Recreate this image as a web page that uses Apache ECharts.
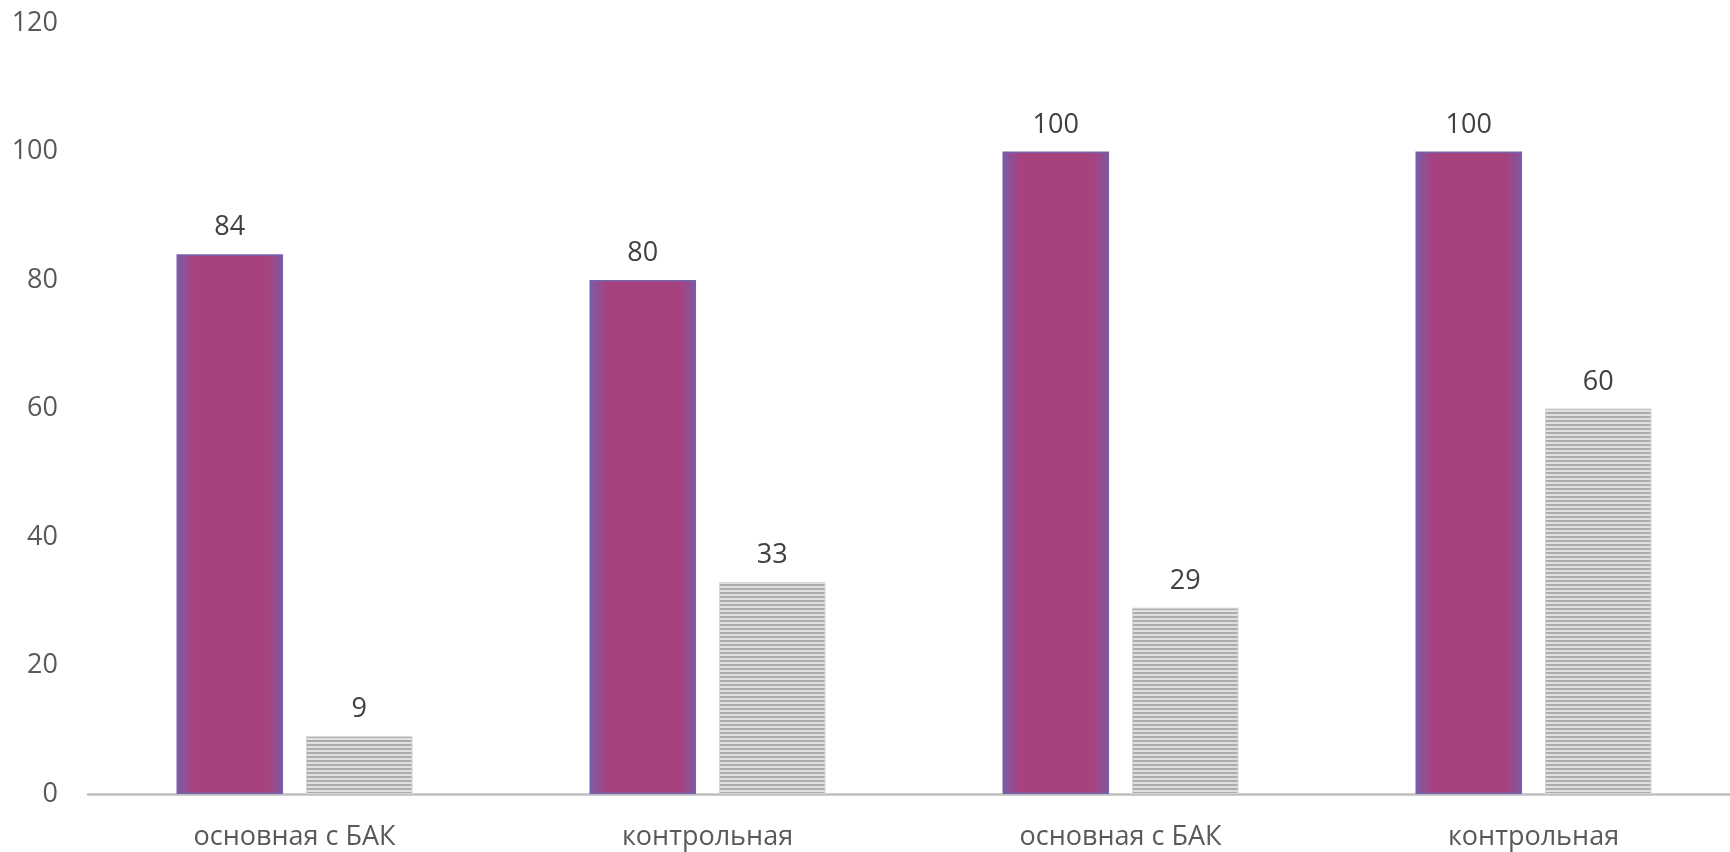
<!DOCTYPE html>
<html>
<head>
<meta charset="utf-8">
<script src="https://cdn.jsdelivr.net/npm/echarts@6/dist/echarts.min.js"></script>
<style>
html,body{margin:0;padding:0;background:#fff;}
#chart{width:1730px;height:852px;}
</style>
</head>
<body>
<div id="chart"></div>
<script>
const categories = ['основная с БАК', 'контрольная', 'основная с БАК', 'контрольная'];
const seriesA = [84, 80, 100, 100];
const seriesB = [9, 33, 29, 60];
const yTicks = { min: 0, max: 120, interval: 20 };

function stripePattern() {
  const c = document.createElement('canvas');
  c.width = 8; c.height = 4;
  const ctx = c.getContext('2d');
  ctx.fillStyle = '#E0E0E0';
  ctx.fillRect(0, 0, 8, 4);
  ctx.fillStyle = '#ACACAC';
  ctx.fillRect(0, 0, 8, 2);
  return c;
}

const chart = echarts.init(document.getElementById('chart'), null, { renderer: 'canvas' });
const font = '"Open Sans", "Noto Sans", sans-serif';

chart.setOption({
  animation: false,
  backgroundColor: '#ffffff',
  grid: { left: 88, width: 1652, top: 23, bottom: 58, containLabel: false, outerBoundsMode: 'none' },
  xAxis: {
    type: 'category',
    data: categories,
    axisLine: { lineStyle: { color: '#BFBFBF', width: 2.5 } },
    axisTick: { show: false },
    axisLabel: { color: '#595959', fontSize: 27, fontFamily: font, margin: 30 }
  },
  yAxis: {
    type: 'value',
    min: yTicks.min, max: yTicks.max, interval: yTicks.interval,
    axisLine: { show: false },
    axisTick: { show: false },
    splitLine: { show: false },
    axisLabel: { color: '#595959', fontSize: 27, fontFamily: font, margin: 30 }
  },
  series: [
    {
      type: 'bar',
      data: seriesA,
      barWidth: '25.8%',
      barGap: '21.5%',
      itemStyle: {
        color: {
          type: 'linear', x: 0, y: 0, x2: 1, y2: 0,
          colorStops: [
            { offset: 0, color: '#7A5CA8' },
            { offset: 0.16, color: '#A6437F' },
            { offset: 0.86, color: '#A6437F' },
            { offset: 1, color: '#7E58A4' }
          ]
        },
        borderColor: '#7662AC',
        borderWidth: 1.5
      },
      label: {
        show: true, position: 'top', distance: 13,
        color: '#404040', fontSize: 27, fontFamily: font
      }
    },
    {
      type: 'bar',
      data: seriesB,
      barWidth: '25.8%',
      itemStyle: {
        color: { image: stripePattern(), repeat: 'repeat' },
        borderColor: '#D6D6D6',
        borderWidth: 1
      },
      label: {
        show: true, position: 'top', distance: 13,
        color: '#404040', fontSize: 27, fontFamily: font
      }
    }
  ]
});
</script>
</body>
</html>
